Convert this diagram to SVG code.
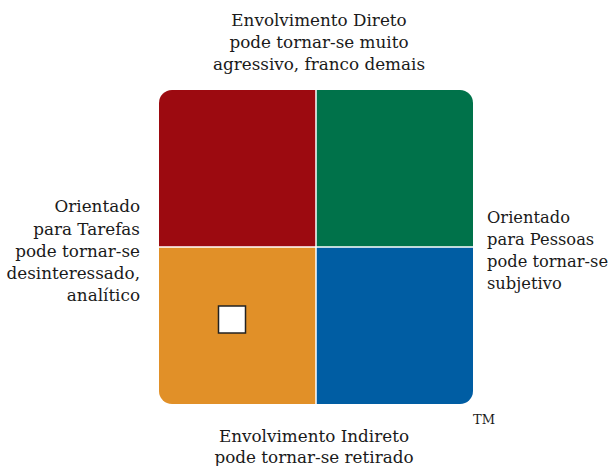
<svg xmlns="http://www.w3.org/2000/svg" width="610" height="466" viewBox="0 0 610 466">
<defs>
<style>
.t{font-family:"DejaVu Serif","Liberation Serif",serif;font-size:16.8px;fill:#1a1a1a}
.r{font-size:16.3px}
.m{text-anchor:middle}
.e{text-anchor:end}
</style>
<clipPath id="c"><rect x="159" y="90" width="314" height="314" rx="13"/></clipPath>
</defs>
<rect width="610" height="466" fill="#fff"/>
<g id="grid" clip-path="url(#c)">
<g id="q-red"><rect x="159" y="90" width="157" height="157" fill="#9C0A10"/></g>
<g id="q-green"><rect x="316" y="90" width="157" height="157" fill="#00724A"/></g>
<g id="q-orange"><rect x="159" y="247" width="157" height="157" fill="#E19028"/></g>
<g id="q-blue"><rect x="316" y="247" width="157" height="157" fill="#005DA3"/></g>
<path d="M316 90V404M159 247H473" stroke="#fff" stroke-width="1.5"/>
</g>
<g id="marker"><rect x="218.5" y="306" width="27" height="27" fill="#fff" stroke="#222" stroke-width="1.5"/></g>
<g id="top" class="t m">
<text x="319" y="26">Envolvimento Direto</text>
<text x="319" y="48">pode tornar-se muito</text>
<text x="319" y="70">agressivo, franco demais</text>
</g>
<g id="left" class="t e">
<text x="140" y="212">Orientado</text>
<text x="140" y="234.5">para Tarefas</text>
<text x="140" y="257">pode tornar-se</text>
<text x="140" y="279">desinteressado,</text>
<text x="140" y="301">analítico</text>
</g>
<g id="right" class="t r">
<text x="487" y="223">Orientado</text>
<text x="487" y="245">para Pessoas</text>
<text x="487" y="267">pode tornar-se</text>
<text x="487" y="289">subjetivo</text>
</g>
<g id="bottom" class="t m">
<text x="314" y="442">Envolvimento Indireto</text>
<text x="314" y="463">pode tornar-se retirado</text>
</g>
<text x="473" y="424" style="font-family:'DejaVu Serif','Liberation Serif',serif;font-size:13px;fill:#1a1a1a">TM</text>
</svg>
